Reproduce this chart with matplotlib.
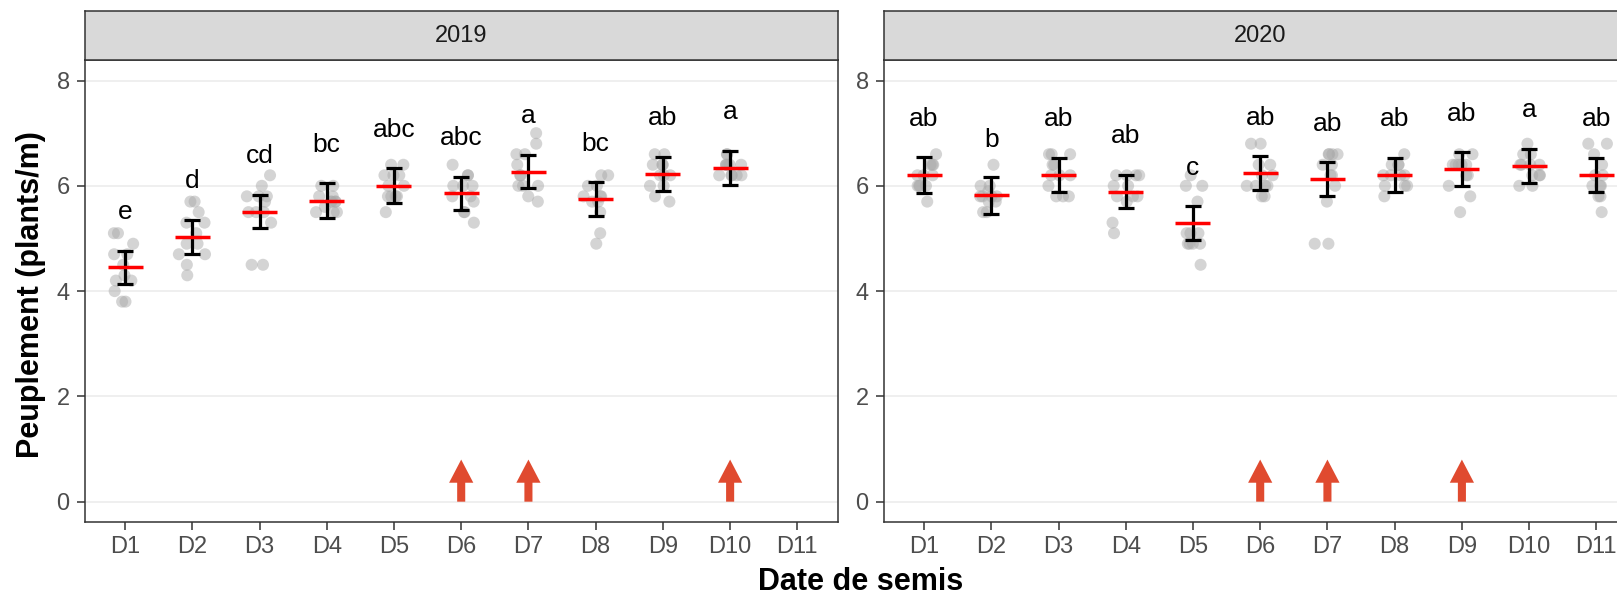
import numpy as np
import matplotlib
matplotlib.use('Agg')
import matplotlib.pyplot as plt
from matplotlib.patches import FancyArrow

plt.rcParams['font.family'] = ['Liberation Sans', 'DejaVu Sans']

# --- donnees ---
dates = ['D1', 'D2', 'D3', 'D4', 'D5', 'D6', 'D7', 'D8', 'D9', 'D10', 'D11']
years = ['2019', '2020']

pts_2019 = [
    [5.1, 5.1, 4.9, 4.7, 4.7, 4.5, 4.3, 4.2, 4.2, 4.0, 3.8, 3.8],
    [5.7, 5.7, 5.5, 5.3, 5.3, 5.1, 4.9, 4.9, 4.7, 4.7, 4.5, 4.3],
    [6.2, 6.0, 5.8, 5.8, 5.8, 5.7, 5.5, 5.5, 5.5, 5.3, 4.5, 4.5],
    [6.0, 6.0, 5.8, 5.8, 5.7, 5.7, 5.7, 5.7, 5.6, 5.5, 5.5, 5.5],
    [6.4, 6.4, 6.2, 6.2, 6.2, 6.0, 6.0, 5.8, 5.8, 5.8, 5.8, 5.5],
    [6.4, 6.2, 6.2, 6.0, 6.0, 6.0, 5.8, 5.8, 5.7, 5.5, 5.5, 5.3],
    [7.0, 6.8, 6.6, 6.6, 6.4, 6.2, 6.2, 6.0, 6.0, 6.0, 5.8, 5.7],
    [6.2, 6.2, 6.0, 6.0, 5.8, 5.8, 5.8, 5.7, 5.7, 5.5, 5.1, 4.9],
    [6.6, 6.6, 6.4, 6.4, 6.4, 6.2, 6.2, 6.2, 6.0, 6.0, 5.8, 5.7],
    [6.6, 6.6, 6.4, 6.4, 6.4, 6.4, 6.4, 6.2, 6.2, 6.2, 6.2, 6.2],
    [],
]
pts_2020 = [
    [6.6, 6.4, 6.4, 6.4, 6.2, 6.2, 6.2, 6.0, 6.0, 6.0, 6.0, 5.7],
    [6.4, 6.0, 6.0, 5.9, 5.8, 5.8, 5.8, 5.8, 5.7, 5.7, 5.5, 5.5],
    [6.6, 6.6, 6.6, 6.4, 6.4, 6.2, 6.2, 6.2, 6.0, 5.8, 5.8, 5.8],
    [6.2, 6.2, 6.2, 6.2, 6.0, 6.0, 5.8, 5.8, 5.8, 5.7, 5.3, 5.1],
    [6.2, 6.0, 6.0, 5.7, 5.1, 5.1, 5.1, 4.9, 4.9, 4.9, 4.9, 4.5],
    [6.8, 6.8, 6.4, 6.4, 6.2, 6.2, 6.0, 6.0, 6.0, 6.0, 5.8, 5.8],
    [6.6, 6.6, 6.6, 6.6, 6.4, 6.4, 6.2, 6.2, 6.0, 5.7, 4.9, 4.9],
    [6.6, 6.4, 6.4, 6.4, 6.2, 6.2, 6.2, 6.2, 6.0, 6.0, 6.0, 5.8],
    [6.6, 6.6, 6.4, 6.4, 6.4, 6.4, 6.4, 6.2, 6.2, 6.0, 5.8, 5.5],
    [6.8, 6.6, 6.6, 6.4, 6.4, 6.4, 6.4, 6.2, 6.2, 6.2, 6.0, 6.0],
    [6.8, 6.8, 6.6, 6.4, 6.2, 6.2, 6.0, 6.0, 6.0, 5.8, 5.8, 5.5],
]

mean_2019 = [4.45, 5.03, 5.51, 5.72, 6.00, 5.86, 6.27, 5.75, 6.23, 6.34, np.nan]
err_2019 = [0.31, 0.33, 0.31, 0.33, 0.33, 0.31, 0.32, 0.32, 0.32, 0.33, np.nan]
lettres_2019 = ['e', 'd', 'cd', 'bc', 'abc', 'abc', 'a', 'bc', 'ab', 'a', '']

mean_2020 = [6.21, 5.82, 6.21, 5.89, 5.29, 6.24, 6.13, 6.21, 6.32, 6.38, 6.21]
err_2020 = [0.34, 0.35, 0.32, 0.32, 0.32, 0.32, 0.32, 0.32, 0.32, 0.32, 0.32]
lettres_2020 = ['ab', 'b', 'ab', 'ab', 'c', 'ab', 'ab', 'ab', 'ab', 'a', 'ab']

# dates signalees par une fleche
fleches_2019 = ['D6', 'D7', 'D10']
fleches_2020 = ['D6', 'D7', 'D9']

data = {
    '2019': (pts_2019, mean_2019, err_2019, lettres_2019, fleches_2019),
    '2020': (pts_2020, mean_2020, err_2020, lettres_2020, fleches_2020),
}

W, H = 1617, 594
fig = plt.figure(figsize=(W / 100, H / 100), dpi=100)

rng = np.random.default_rng(3)
panel_left = [84.7, 883.7]
panel_w = 753
top, bottom = 60, 522
strip_top = 11

for k, yr in enumerate(years):
    pts, means, errs, lettres, fleches = data[yr]
    ax = fig.add_axes([panel_left[k] / W, 1 - bottom / H, panel_w / W, (bottom - top) / H])
    xs = np.arange(len(dates))

    for i, vals in enumerate(pts):
        if not vals:
            continue
        jit = rng.uniform(-0.2, 0.2, len(vals))
        ax.scatter(xs[i] + jit, vals, s=75, color='#AAAAAA', alpha=0.5,
                   edgecolors='none', zorder=2)

    m = np.array(means)
    e = np.array(errs)
    ok = ~np.isnan(m)
    ax.errorbar(xs[ok], m[ok], yerr=e[ok], fmt='none', ecolor='black',
                elinewidth=2.3, capsize=5.5, capthick=2.3, zorder=3)
    ax.hlines(m[ok], xs[ok] - 0.26, xs[ok] + 0.26, color='#FF0000', lw=2.5, zorder=4)

    for i, lab in enumerate(lettres):
        if lab:
            ax.text(xs[i], means[i] + 0.92, lab, ha='center', va='baseline',
                    fontsize=19, color='black')

    for d in fleches:
        x0 = dates.index(d)
        ax.add_patch(FancyArrow(x0, 0, 0, 0.8, width=0.12, head_width=0.36,
                                head_length=0.44, length_includes_head=True,
                                color='#E04A2F', lw=0, zorder=5))

    ax.set_xlim(-0.6, len(dates) - 0.4)
    ax.set_ylim(-0.386, 8.39)
    ax.set_xticks(xs)
    ax.set_xticklabels(dates)
    ax.set_yticks([0, 2, 4, 6, 8])
    ax.grid(axis='y', color='#EBEBEB', lw=1.1)
    ax.set_axisbelow(True)
    ax.tick_params(length=5.8, width=1.1, color='#333333', labelcolor='#4D4D4D',
                   labelsize=17)
    ax.tick_params(axis='x', pad=4)
    ax.tick_params(axis='y', pad=5)
    for sp in ax.spines.values():
        sp.set_color('#333333')
        sp.set_linewidth(1.1)

    # bandeau de facette
    sx = fig.add_axes([panel_left[k] / W, 1 - top / H, panel_w / W, (top - strip_top) / H])
    sx.set_facecolor('#D9D9D9')
    sx.set_xticks([])
    sx.set_yticks([])
    for sp in sx.spines.values():
        sp.set_color('#333333')
        sp.set_linewidth(1.1)
    sx.text(0.5, 0.5, yr, ha='center', va='center', fontsize=17, color='#1A1A1A',
            transform=sx.transAxes)

fig.text(860.6 / W, 4 / H, 'Date de semis', ha='center', va='baseline',
         fontsize=22, fontweight='bold')
fig.text(31 / W, 1 - 295 / H, 'Peuplement (plants/m)', ha='center', va='center',
         rotation=90, fontsize=22, fontweight='bold')

fig.savefig('out.png', dpi=100)
